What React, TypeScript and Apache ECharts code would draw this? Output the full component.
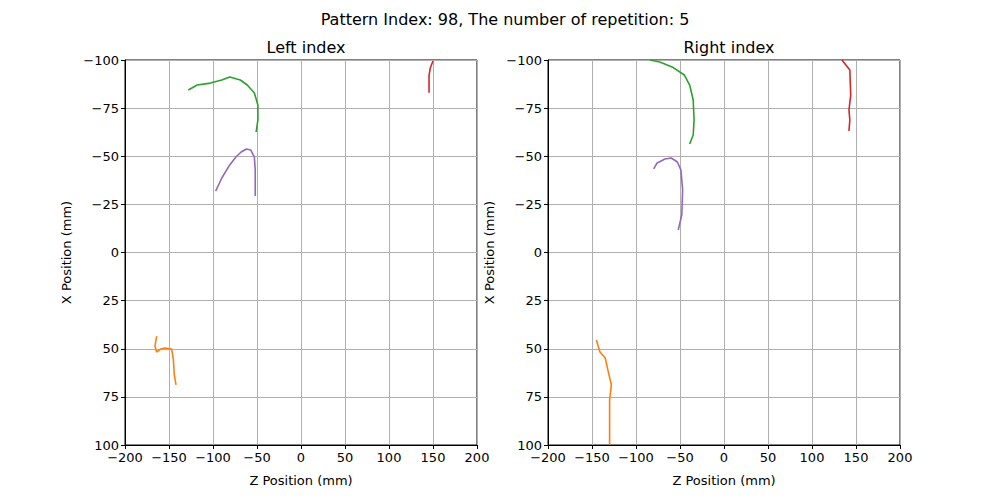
import React, { useEffect, useRef } from "react";
import * as echarts from "echarts";

const xTicks = [-200, -150, -100, -50, 0, 50, 100, 150, 200];
const yTicks = [-100, -75, -50, -25, 0, 25, 50, 75, 100];

const leftOrange = [[-164,43.4],[-166,48.6],[-164,51.7],[-159,50.1],[-155,49.6],[-147,50.1],[-145,55.8],[-144,63.6],[-142,68.8]];
const leftGreen = [[-128,-84.4],[-118,-87],[-103,-88],[-90,-89.6],[-81,-91.2],[-69,-89.6],[-61,-87],[-53,-82.9],[-49,-76.6],[-49,-68.8],[-51,-62.6]];
const leftRed = [[150,-99.5],[147,-96],[145.5,-92],[145.5,-83]];
const leftPurple = [[-97,-31.9],[-90,-38.7],[-81,-45.5],[-74,-49.6],[-68,-52.2],[-62,-53.8],[-57,-53.2],[-53,-49.6],[-52,-42.9],[-52,-29.4]];

const rightOrange = [[-145,45.5],[-141,51.7],[-135,54.8],[-132,61],[-128,68.8],[-130,76.6],[-130,100]];
const rightGreen = [[-84,-100],[-73,-99],[-59,-96.4],[-45,-92.2],[-39,-87],[-35,-79.2],[-34,-68.8],[-35,-61],[-39,-56.4]];
const rightRed = [[134,-100],[143,-94.8],[144,-81.8],[142,-74],[143,-68.8],[142,-63.1]];
const rightPurple = [[-80,-43.4],[-76,-46.5],[-67,-48.6],[-60,-49.1],[-53,-47],[-49,-42.9],[-47,-32.5],[-48,-19.5],[-52,-11.7]];

const FONT = "DejaVu Sans";
const fmt = (v: number) => String(v).replace("-", "\u2212");

export default function App() {
  const ref = useRef<HTMLDivElement>(null);
  useEffect(() => {
    const chart = echarts.init(ref.current!, null, { renderer: "svg" });
    const axisCommon = {
      axisLine: { show: true, onZero: false, lineStyle: { color: "#000", width: 1 } },
      axisTick: { show: true, inside: false, length: 4, lineStyle: { color: "#000" } },
      axisLabel: { color: "#000", fontFamily: FONT, fontSize: 13, formatter: fmt, margin: 6 },
      splitLine: { show: true, lineStyle: { color: "#b0b0b0", width: 1 } },
      nameTextStyle: { color: "#000", fontFamily: FONT, fontSize: 13 },
      nameLocation: "middle" as const,
    };
    const xAxis = [0, 1].map((i) => ({
      ...axisCommon, type: "value", gridIndex: i, min: -200, max: 200, interval: 50,
      name: "Z Position (mm)", nameGap: 29,
    }));
    const yAxis = [0, 1].map((i) => ({
      ...axisCommon, type: "value", gridIndex: i, min: -100, max: 100, interval: 25, inverse: true,
      name: "X Position (mm)", nameGap: 52,
    }));
    const mk = (data: number[][], color: string, i: number) => ({
      type: "line", data, xAxisIndex: i, yAxisIndex: i, showSymbol: false, symbol: "none",
      lineStyle: { color, width: 1.6 }, itemStyle: { color }, clip: true,
    });
    chart.setOption({
      animation: false,
      title: [
        { text: "Pattern Index: 98, The number of repetition: 5", left: 500, top: 6, textAlign: "center",
          textStyle: { fontFamily: FONT, fontSize: 16, fontWeight: "normal", color: "#000" } },
        { text: "Left index", left: 301, top: 34, textAlign: "center",
          textStyle: { fontFamily: FONT, fontSize: 16, fontWeight: "normal", color: "#000" } },
        { text: "Right index", left: 724, top: 34, textAlign: "center",
          textStyle: { fontFamily: FONT, fontSize: 16, fontWeight: "normal", color: "#000" } },
      ],
      grid: [
        { left: 125, top: 60, width: 352, height: 385, show: true, borderColor: "#000", borderWidth: 1, backgroundColor: "transparent" },
        { left: 548, top: 60, width: 352, height: 385, show: true, borderColor: "#000", borderWidth: 1, backgroundColor: "transparent" },
      ],
      xAxis, yAxis,
      series: [
        mk(leftOrange, "#ff7f0e", 0), mk(leftGreen, "#2ca02c", 0), mk(leftRed, "#d62728", 0), mk(leftPurple, "#9467bd", 0),
        mk(rightOrange, "#ff7f0e", 1), mk(rightGreen, "#2ca02c", 1), mk(rightRed, "#d62728", 1), mk(rightPurple, "#9467bd", 1),
      ],
    });
    return () => chart.dispose();
  }, []);
  return <div ref={ref} style={{ width: 1000, height: 500, margin: -8 }} />;
}
